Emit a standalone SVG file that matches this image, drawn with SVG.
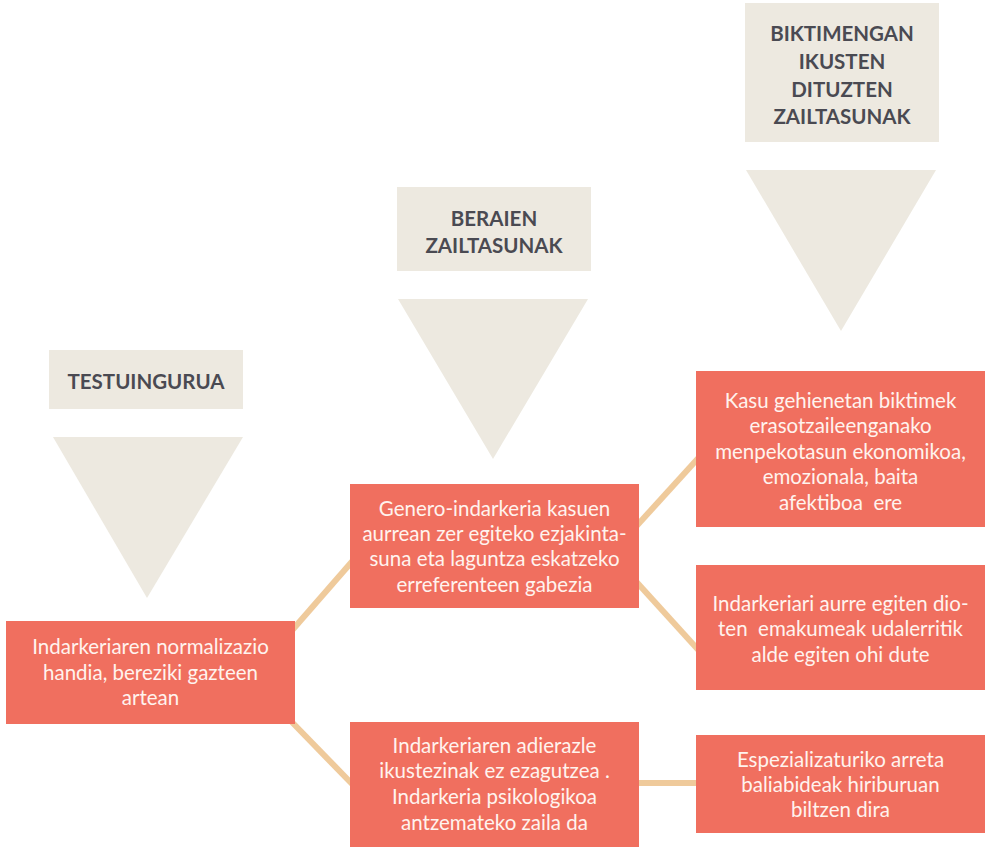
<svg xmlns="http://www.w3.org/2000/svg" width="989" height="847" viewBox="0 0 989 847">
<style>
.hdr{fill:#EDE9E0}
.tri{fill:#EDE9E0}
.ht{font-family:Lato,"Open Sans",sans-serif;font-weight:700;font-size:20.5px;fill:#4A4A52;text-anchor:middle}
.box{fill:#F06F5F}
.bt{font-family:Lato,"Open Sans",sans-serif;font-size:20.5px;fill:#FFF3EE;text-anchor:middle}
.con{stroke:#EFCA9B;stroke-width:6;fill:none}
</style>
<rect width="989" height="847" fill="#FFFFFF"/>
<g id="connectors">
<line class="con" x1="288" y1="635" x2="356" y2="557"/>
<line class="con" x1="286" y1="716" x2="356" y2="788"/>
<line class="con" x1="632" y1="531" x2="702" y2="454"/>
<line class="con" x1="632" y1="577" x2="702" y2="654"/>
<line class="con" x1="636" y1="783" x2="700" y2="783"/>
</g>
<g id="hdr-testuingurua">
<rect class="hdr" x="49" y="350" width="194" height="59"/>
<text class="ht" x="146" y="389">TESTUINGURUA</text>
<polygon class="tri" points="53,437 243,437 147,598"/>
</g>
<g id="hdr-beraien">
<rect class="hdr" x="397" y="187" width="194" height="84"/>
<text class="ht" x="494" y="226">BERAIEN</text>
<text class="ht" x="494" y="253">ZAILTASUNAK</text>
<polygon class="tri" points="398,299 588,299 493,459"/>
</g>
<g id="hdr-biktimengan">
<rect class="hdr" x="745" y="3" width="194" height="139"/>
<text class="ht" x="842" y="41">BIKTIMENGAN</text>
<text class="ht" x="842" y="69">IKUSTEN</text>
<text class="ht" x="842" y="97">DITUZTEN</text>
<text class="ht" x="842" y="124">ZAILTASUNAK</text>
<polygon class="tri" points="746,170 936,170 841,331"/>
</g>
<g id="node-normalizazio">
<rect class="box" x="6" y="621" width="289" height="103"/>
<text class="bt" x="150.5" y="654">Indarkeriaren normalizazio</text>
<text class="bt" x="150.5" y="680">handia, bereziki gazteen</text>
<text class="bt" x="150.5" y="705">artean</text>
</g>
<g id="node-genero">
<rect class="box" x="350" y="484" width="289" height="124"/>
<text class="bt" x="494.5" y="516">Genero-indarkeria kasuen</text>
<text class="bt" x="494.5" y="541">aurrean zer egiteko ezjakinta-</text>
<text class="bt" x="494.5" y="566">suna eta laguntza eskatzeko</text>
<text class="bt" x="494.5" y="592">erreferenteen gabezia</text>
</g>
<g id="node-adierazle">
<rect class="box" x="350" y="722" width="289" height="125"/>
<text class="bt" x="494.5" y="753">Indarkeriaren adierazle</text>
<text class="bt" x="494.5" y="778">ikustezinak ez ezagutzea .</text>
<text class="bt" x="494.5" y="804">Indarkeria psikologikoa</text>
<text class="bt" x="494.5" y="830">antzemateko zaila da</text>
</g>
<g id="node-kasu">
<rect class="box" x="696" y="371" width="289" height="156"/>
<text class="bt" x="840.5" y="408">Kasu gehienetan biktimek</text>
<text class="bt" x="840.5" y="433">erasotzaileenganako</text>
<text class="bt" x="840.5" y="459">menpekotasun ekonomikoa,</text>
<text class="bt" x="840.5" y="484">emozionala, baita</text>
<text class="bt" x="840.5" y="510" xml:space="preserve">afektiboa  ere</text>
</g>
<g id="node-indarkeriari">
<rect class="box" x="696" y="565" width="289" height="125"/>
<text class="bt" x="840.5" y="611">Indarkeriari aurre egiten dio-</text>
<text class="bt" x="840.5" y="636" xml:space="preserve">ten  emakumeak udalerritik</text>
<text class="bt" x="840.5" y="662">alde egiten ohi dute</text>
</g>
<g id="node-espezializatu">
<rect class="box" x="696" y="735" width="289" height="98"/>
<text class="bt" x="840.5" y="767">Espezializaturiko arreta</text>
<text class="bt" x="840.5" y="792">baliabideak hiriburuan</text>
<text class="bt" x="840.5" y="817">biltzen dira</text>
</g>
</svg>
